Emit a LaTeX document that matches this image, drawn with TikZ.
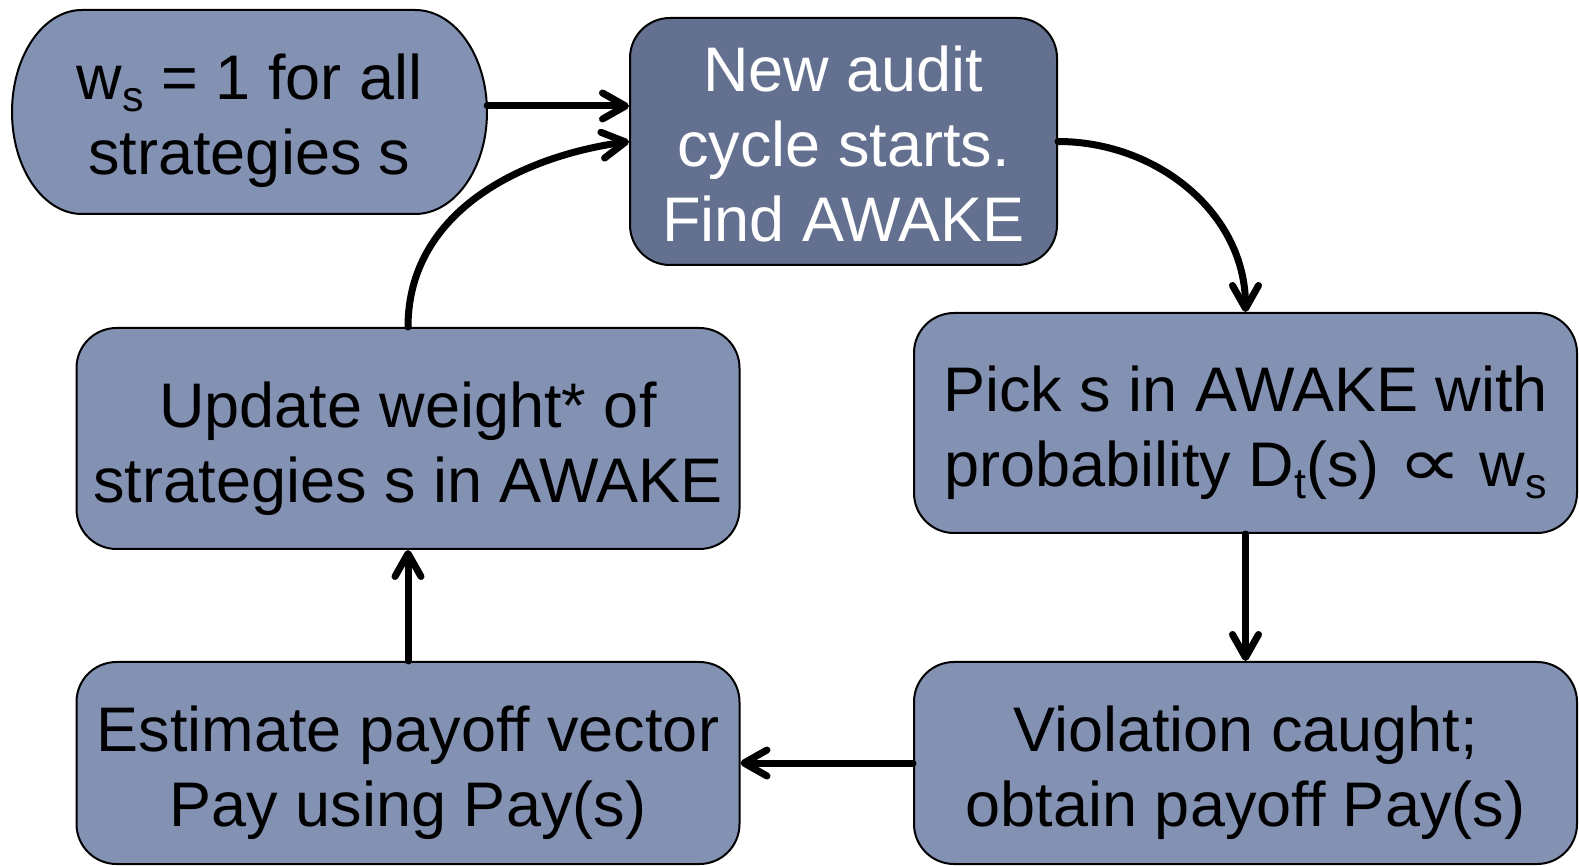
\documentclass[tikz,border=0pt]{standalone}
\usepackage{fontspec}
\setmainfont{Liberation Sans}
\newfontfamily\symfont{DejaVu Sans}
\usetikzlibrary{arrows.meta}
\definecolor{boxlight}{RGB}{131,145,179}
\definecolor{boxdark}{RGB}{100,112,143}
\newcommand{\subs}[1]{\raisebox{-12pt}{\fontsize{43}{43}\selectfont #1}}
\begin{document}
\begin{tikzpicture}[x=1pt,y=1pt,
  box/.style={draw=black, line width=2pt, rounded corners=40pt, fill=boxlight, inner sep=0pt},
  txt/.style={align=center, font=\fontsize{63}{75}\selectfont, inner sep=0pt},
  arr/.style={line width=7pt, line cap=round,
    -{Straight Barb[length=23pt,width=26pt,round]}}]
\useasboundingbox (0,0) rectangle (1579,865);
% start shape
\filldraw[fill=boxlight, draw=black, line width=2pt]
  (82,855) -- (415,855) arc[start angle=90,end angle=-90,x radius=72,y radius=102]
  -- (82,651) arc[start angle=270,end angle=90,x radius=70,y radius=102] -- cycle;
\node[inner sep=0pt, minimum width=475pt, minimum height=204pt] (start) at (249.5,753) {};
\node[box, fill=boxdark, minimum width=427pt, minimum height=247pt] (new) at (843.5,723.5) {};
\node[box, minimum width=663pt, minimum height=220pt] (pick) at (1245.5,442) {};
\node[box, minimum width=663pt, minimum height=221pt] (update) at (408,426.5) {};
\node[box, minimum width=663pt, minimum height=202pt] (est) at (408,102) {};
\node[box, minimum width=663pt, minimum height=202pt] (viol) at (1245.5,102) {};
% texts
\node[txt] (startt) at ([yshift=-9pt]start.center) {w\subs{s} = 1 for all\\strategies s};
\node[txt, text=white] (newt) at ([yshift=-2pt]new.center) {New audit\\cycle starts.\\Find AWAKE};
\node[txt] (pickt) at ([yshift=-10pt]pick.center)
  {Pick s in AWAKE with\\probability D\subs{t}(s) \scalebox{1.45}[1.1]{\symfont\fontsize{63}{75}\selectfont ∝} w\subs{s}};
\node[txt] (updatet) at ([yshift=-10pt]update.center) {Update weight* of\\strategies s in AWAKE};
\node[txt] (estt) at ([yshift=-10pt]est.center) {Estimate payoff vector\\Pay using Pay(s)};
\node[txt] (violt) at ([yshift=-10pt]viol.center) {Violation caught;\\obtain payoff Pay(s)};
% connectors
\coordinate (s1) at ([yshift=6pt]start.east);
\draw[arr] (s1) -- (s1 -| new.west);
\draw[arr] (update.north) to[out=90,in=188] (new.west);
\draw[arr] (new.east) to[out=0,in=90] (pick.north);
\draw[arr] (pick.south) -- (viol.north);
\draw[arr] (viol.west) -- (est.east);
\draw[arr] (est.north) -- (update.south);
\end{tikzpicture}
\end{document}
